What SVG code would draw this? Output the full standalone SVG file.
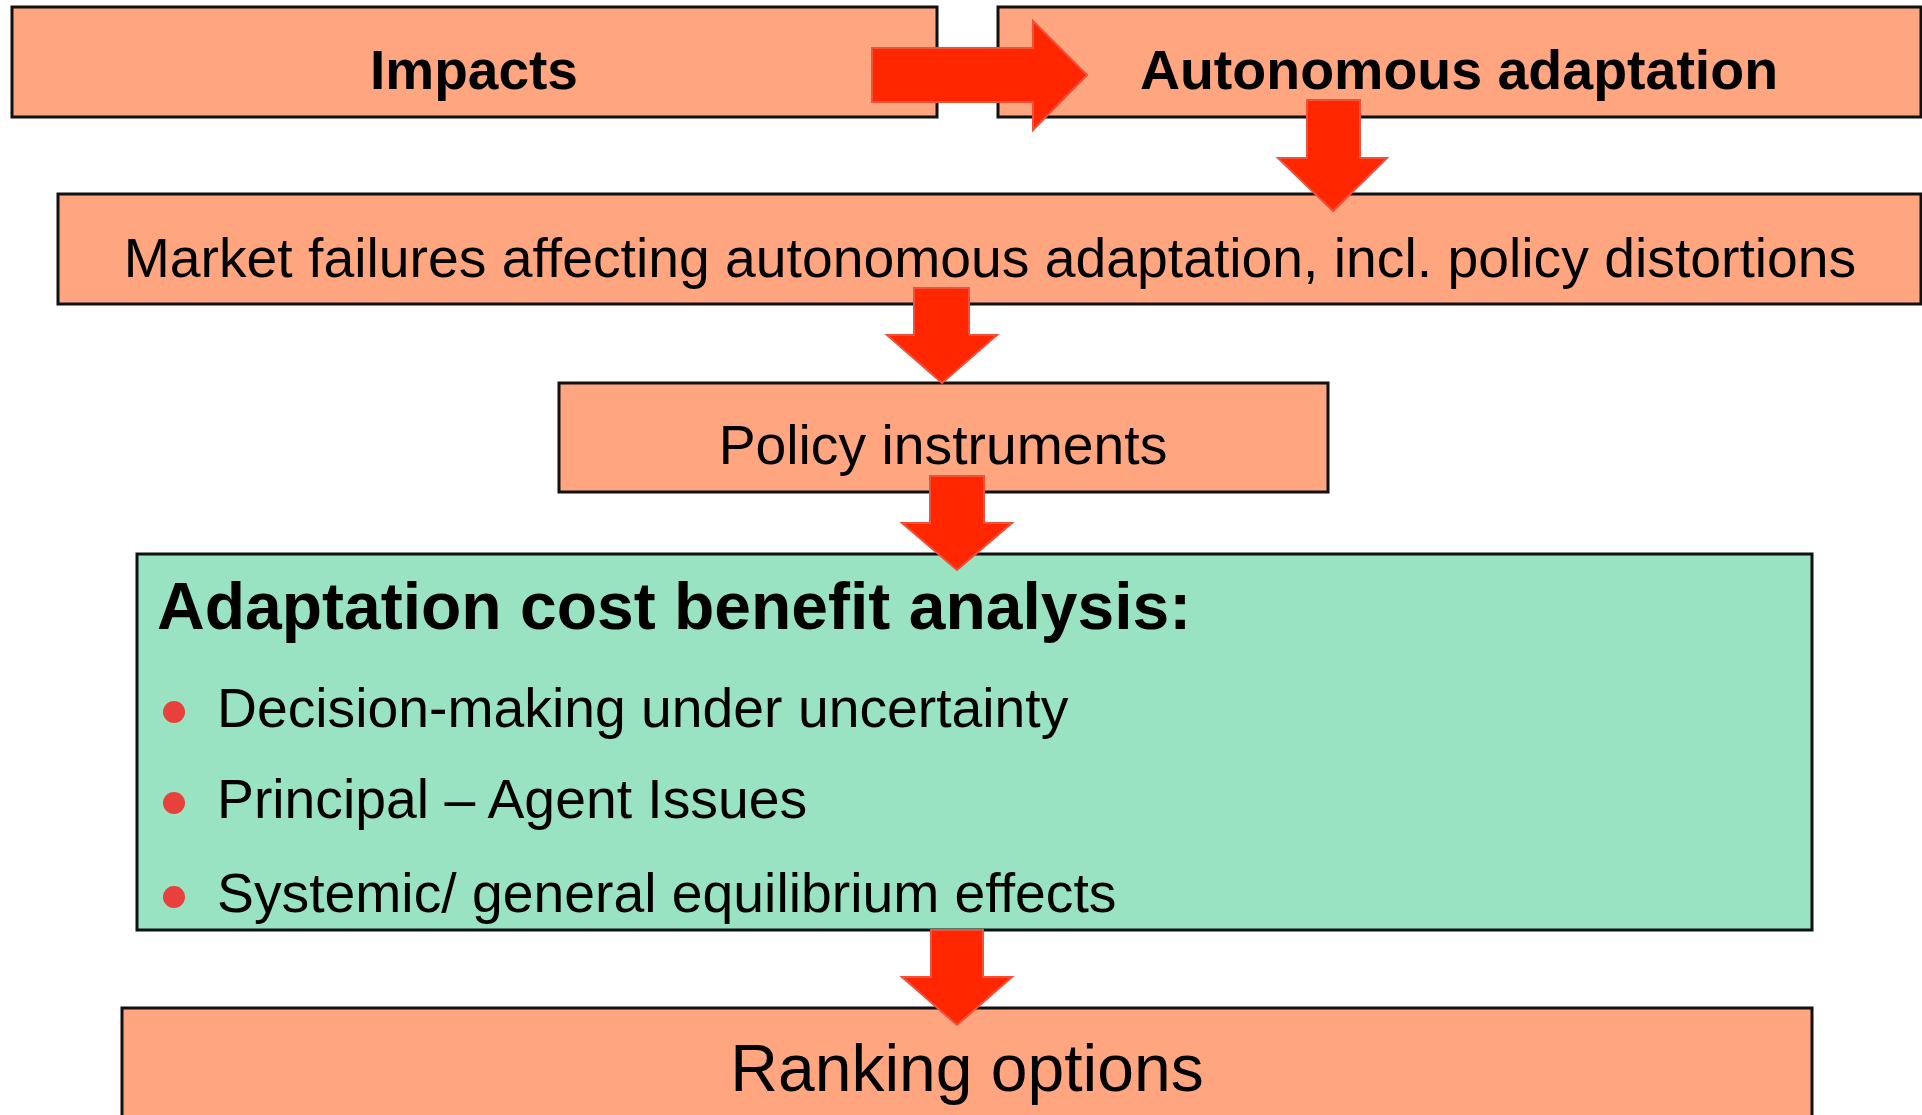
<svg xmlns="http://www.w3.org/2000/svg" width="1922" height="1115" viewBox="0 0 1922 1115">
  <style>
    .box { fill: #FFA680; stroke: #111111; stroke-width: 3; }
    .green { fill: #99E3C3; stroke: #111111; stroke-width: 3; }
    .t { font-family: "Liberation Sans", Arial, sans-serif; fill: #000000; }
    .b { font-weight: bold; }
    .arrow { fill: #FF2600; stroke: #F0503C; stroke-width: 2; stroke-linejoin: miter; }
    .dot { fill: #E8403A; }
  </style>
  <rect width="1922" height="1115" fill="#FFFFFF"/>

  <g id="impacts">
    <rect class="box" x="12" y="7" width="925" height="110"/>
    <text class="t b" x="474" y="89" font-size="55" text-anchor="middle">Impacts</text>
  </g>

  <g id="autonomous-adaptation">
    <rect class="box" x="998" y="7" width="923" height="110"/>
    <text class="t b" x="1459" y="89" font-size="55.5" text-anchor="middle">Autonomous adaptation</text>
  </g>

  <g id="market-failures">
    <rect class="box" x="58" y="194" width="1863" height="110"/>
    <text class="t" x="990" y="277" font-size="55.3" text-anchor="middle">Market failures affecting autonomous adaptation, incl. policy distortions</text>
  </g>

  <g id="policy-instruments">
    <rect class="box" x="559" y="383" width="769" height="109"/>
    <text class="t" x="943" y="464" font-size="55.3" text-anchor="middle">Policy instruments</text>
  </g>

  <g id="cost-benefit-analysis">
    <rect class="green" x="137" y="554" width="1675" height="376"/>
    <text class="t b" x="157" y="629" font-size="66">Adaptation cost benefit analysis:</text>
    <circle class="dot" cx="174" cy="712" r="11"/>
    <text class="t" x="217" y="727" font-size="55.3">Decision-making under uncertainty</text>
    <circle class="dot" cx="174" cy="803" r="11"/>
    <text class="t" x="217" y="818" font-size="55.3">Principal – Agent Issues</text>
    <circle class="dot" cx="174" cy="897" r="11"/>
    <text class="t" x="217" y="912" font-size="55.3">Systemic/ general equilibrium effects</text>
  </g>

  <g id="ranking-options">
    <rect class="box" x="122" y="1008" width="1690" height="130"/>
    <text class="t" x="967" y="1091" font-size="66" text-anchor="middle">Ranking options</text>
  </g>

  <g id="connectors">
    <!-- Impacts to Autonomous adaptation -->
    <polygon class="arrow" points="872,48 1033,48 1033,21 1087,75 1033,130 1033,102 872,102"/>
    <!-- Autonomous adaptation to Market failures -->
    <polygon class="arrow" points="1307,100 1360,100 1360,158 1387,158 1333,211 1278,158 1307,158"/>
    <!-- Market failures to Policy instruments -->
    <polygon class="arrow" points="914,288 969,288 969,335 997,335 942,383 887,335 914,335"/>
    <!-- Policy instruments to cost benefit analysis -->
    <polygon class="arrow" points="930,476 984,476 984,523 1012,523 957,570 902,523 930,523"/>
    <!-- Cost benefit analysis to Ranking options -->
    <polygon class="arrow" points="931,930 983,930 983,977 1012,977 957,1025 902,977 931,977"/>
  </g>
</svg>
